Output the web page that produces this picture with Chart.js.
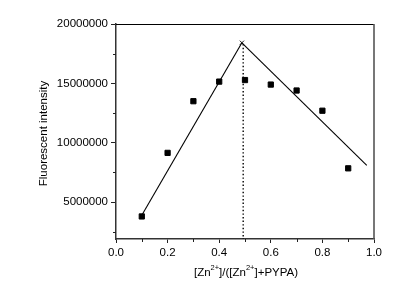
<!DOCTYPE html>
<html>
<head>
<meta charset="utf-8">
<script src="https://cdn.jsdelivr.net/npm/chart.js@4"></script>
<style>
  html, body { margin: 0; padding: 0; background: #fff; }
  #wrap { width: 415px; height: 283px; position: relative; }
</style>
</head>
<body>
<div id="wrap"><canvas id="c"></canvas></div>
<script>
  // measured points (Job plot)
  const ratio = [0.1, 0.2, 0.3, 0.4, 0.5, 0.6, 0.7, 0.8, 0.9];
  const intensity = [3800000, 9150000, 13500000, 15150000, 15280000, 14900000, 14400000, 12700000, 7850000];

  // hand-drawn fit lines
  const leftFit = [{ x: 0.1, y: 3900000 }, { x: 0.488, y: 18420000 }];
  const rightFit = [{ x: 0.488, y: 18420000 }, { x: 0.972, y: 8100000 }];
  const peak = [{ x: 0.488, y: 18420000 }];
  const dropLine = [{ x: 0.493, y: 18300000 }, { x: 0.493, y: 1900000 }];

  const xTicks = [0.0, 0.2, 0.4, 0.6, 0.8, 1.0];
  const xMinor = [0.1, 0.3, 0.5, 0.7, 0.9];
  const yTicks = [5000000, 10000000, 15000000, 20000000];
  const yMinor = [2500000, 7500000, 12500000, 17500000];

  const FONT = '"Liberation Sans", Arial, sans-serif';
  const INK = '#000';

  // frame, minor ticks and axis titles (with superscripts)
  const decor = {
    id: 'decor',
    afterDraw(chart) {
      const { ctx, chartArea: a, scales: { x, y } } = chart;
      ctx.save();
      ctx.strokeStyle = INK;
      ctx.lineWidth = 1;
      ctx.beginPath();
      ctx.moveTo(a.left, a.top + 0.5); ctx.lineTo(a.right, a.top + 0.5);
      ctx.stroke();
      ctx.strokeStyle = '#555';
      ctx.lineWidth = 1.6;
      ctx.beginPath();
      ctx.moveTo(a.right, a.top); ctx.lineTo(a.right, a.bottom);
      ctx.stroke();

      ctx.strokeStyle = '#222';
      ctx.lineWidth = 1;
      ctx.beginPath();
      xMinor.forEach((v) => {
        const px = Math.round(x.getPixelForValue(v)) + 0.5;
        ctx.moveTo(px, a.bottom); ctx.lineTo(px, a.bottom + 3);
      });
      yMinor.forEach((v) => {
        const py = Math.round(y.getPixelForValue(v)) + 0.5;
        ctx.moveTo(a.left, py); ctx.lineTo(a.left - 3, py);
      });
      ctx.stroke();

      ctx.fillStyle = INK;
      ctx.font = '11.5px ' + FONT;
      ctx.textBaseline = 'middle';
      ctx.textAlign = 'center';
      ctx.save();
      ctx.translate(43.5, (a.top + a.bottom) / 2 + 2);
      ctx.rotate(-Math.PI / 2);
      ctx.fillText('Fluorescent intensity', 0, 0);
      ctx.restore();

      const parts = [['[Zn', 0], ['2+', 1], [']/([Zn', 0], ['2+', 1], [']+PYPA)', 0]];
      const big = '11.5px ' + FONT, small = '7.5px ' + FONT;
      let w = 0;
      parts.forEach(([t, s]) => { ctx.font = s ? small : big; w += ctx.measureText(t).width; });
      let cx = (a.left + a.right) / 2 - w / 2 + 1;
      const base = 276;
      ctx.textAlign = 'left';
      ctx.textBaseline = 'alphabetic';
      parts.forEach(([t, s]) => {
        ctx.font = s ? small : big;
        ctx.fillText(t, cx, s ? base - 6 : base);
        cx += ctx.measureText(t).width;
      });
      ctx.restore();
    }
  };

  new Chart(document.getElementById('c'), {
    type: 'scatter',
    data: {
      datasets: [
        { data: ratio.map((v, i) => ({ x: v, y: intensity[i] })), pointStyle: 'rect',
          pointRadius: 3.7, backgroundColor: INK, borderColor: INK, borderWidth: 1, showLine: false },
        { data: leftFit, showLine: true, borderColor: INK, borderWidth: 1.1, pointRadius: 0 },
        { data: rightFit, showLine: true, borderColor: INK, borderWidth: 1.1, pointRadius: 0 },
        { data: peak, pointStyle: 'crossRot', pointRadius: 3, borderColor: INK, borderWidth: 0.9 },
        { data: dropLine, showLine: true, borderColor: INK, borderWidth: 1.4, borderDash: [1.4, 2.2], pointRadius: 0 },
      ],
    },
    options: {
      responsive: true, maintainAspectRatio: false, animation: false,
      events: [],
      layout: { padding: { left: 0, top: 24, right: 41, bottom: 0 } },
      plugins: { legend: { display: false }, tooltip: { enabled: false } },
      scales: {
        x: {
          type: 'linear', min: 0, max: 1,
          afterBuildTicks: (s) => { s.ticks = xTicks.map((v) => ({ value: v })); },
          afterFit: (s) => { s.height = 44; },
          grid: { drawOnChartArea: false, tickLength: 4, color: '#222', tickColor: '#222' },
          border: { color: '#333', width: 1.5 },
          ticks: { color: INK, font: { family: FONT, size: 11.5 }, padding: 3, maxRotation: 0,
            callback: (v) => v.toFixed(1) },
        },
        y: {
          type: 'linear', min: 1900000, max: 20000000,
          afterBuildTicks: (s) => { s.ticks = yTicks.map((v) => ({ value: v })); },
          afterFit: (s) => { s.width = 116; },
          grid: { drawOnChartArea: false, tickLength: 5, color: '#222', tickColor: '#222' },
          border: { color: '#333', width: 1.5 },
          ticks: { color: INK, font: { family: FONT, size: 11.5 }, padding: 3,
            callback: (v) => String(v) },
        },
      },
    },
    plugins: [decor],
  });
</script>
</body>
</html>
